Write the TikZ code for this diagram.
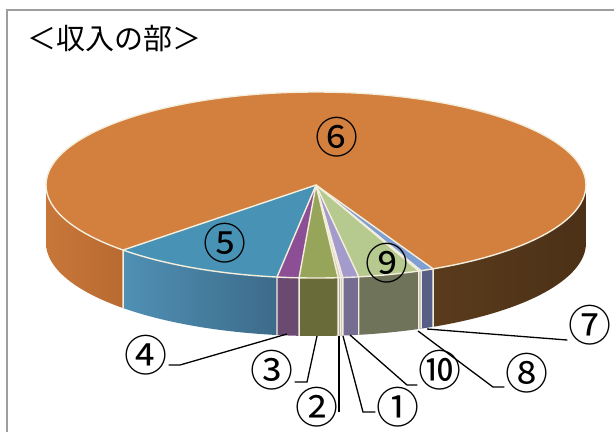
\documentclass[tikz,border=0pt]{standalone}
\usepackage{fontspec}
\newfontfamily\jp{Noto Sans CJK JP}
\definecolor{frm}{gray}{.62}
\definecolor{edg}{HTML}{F4EEDC}
\definecolor{t6}{HTML}{D3803F}
\definecolor{s6l}{HTML}{C8773A}
\definecolor{s6m}{HTML}{B86A30}
\definecolor{s6d}{HTML}{4C3117}
\definecolor{s6r}{HTML}{5A3B1C}
\definecolor{t5}{HTML}{4893B5}
\definecolor{s5l}{HTML}{4F90B4}
\definecolor{s5r}{HTML}{3D6B8A}
\definecolor{t4}{HTML}{8C4F96}
\definecolor{s4}{HTML}{6B4A72}
\definecolor{t3}{HTML}{97A55A}
\definecolor{s3}{HTML}{696B39}
\definecolor{t2}{HTML}{D6C6B6}
\definecolor{s2}{HTML}{B4ACA4}
\definecolor{t1}{HTML}{C2B4D6}
\definecolor{s1}{HTML}{8A82A2}
\definecolor{t10}{HTML}{A39BCB}
\definecolor{s10}{HTML}{766E92}
\definecolor{t9}{HTML}{B6CA90}
\definecolor{s9}{HTML}{6F735A}
\definecolor{t8}{HTML}{C6D6E6}
\definecolor{s8}{HTML}{8E8E98}
\definecolor{t7}{HTML}{7F9FD3}
\definecolor{s7}{HTML}{585F87}
\tikzset{
    edge/.style={draw=edg, line width=1.4pt},
    num/.style={font=\jp\fontsize{43}{43}\selectfont, inner sep=1pt},
    lead/.style={line width=1.3pt},
}

\begin{document}
\begin{tikzpicture}[x=1pt, y=-1pt]
    \useasboundingbox(0, 0) rectangle (614, 432);
    \draw[frm, line width=1.6pt](7, 432)--(7, 10)--(614, 10);
    \node[anchor=west, inner sep=0, font=\jp\fontsize{29}{29}\selectfont](ttl) at(27, 39){＜収入の部＞};
    \begin{scope}[shift={(316, 185)}]
        % side of the disc
        \shade[left color=s6l, right color=s6m](180:270 and 93) arc[start angle=180, end angle=135.6, x radius=270, y radius=93]--++(0, 58) arc[start angle=135.6, end angle=180, x radius=270, y radius=93]--cycle;
        \shade[left color=s6r, right color=s6d](64.3:270 and 93) arc[start angle=64.3, end angle=0, x radius=270, y radius=93]--++(0, 58) arc[start angle=0, end angle=64.3, x radius=270, y radius=93]--cycle;
        \shade[left color=s5l, right color=s5r](98.3:270 and 93) arc[start angle=98.3, end angle=135.6, x radius=270, y radius=93]--++(0, 58) arc[start angle=135.6, end angle=98.3, x radius=270, y radius=93]--cycle;
        \foreach \a/\b/\c in {64.3/67.1/s7, 67.1/67.6/s8, 67.6/80.9/s9, 80.9/84.3/s10, 84.3/84.7/s1, 84.7/85.3/s2, 85.3/93.6/s3, 93.6/98.3/s4}
            \fill[\c](\a:270 and 93) arc[start angle=\a, end angle=\b, x radius=270, y radius=93]--++(0, 58) arc[start angle=\b, end angle=\a, x radius=270, y radius=93]--cycle;
        % top
        \fill[t6](0, 0) ellipse[x radius=270, y radius=93];
        \foreach \a/\b/\c in {64.3/67.1/t7, 67.1/67.6/t8, 67.6/80.9/t9, 80.9/84.3/t10, 84.3/84.7/t1, 84.7/85.3/t2, 85.3/93.6/t3, 93.6/98.3/t4, 98.3/135.6/t5}
            \fill[\c](0, 0)--(\a:270 and 93) arc[start angle=\a, end angle=\b, x radius=270, y radius=93]--cycle;
        \foreach \a in {64.3, 67.1, 67.6, 80.9, 84.3, 84.7, 85.3, 93.6, 98.3, 135.6}
            \draw[edge](0, 0)--(\a:270 and 93)--++(0, 58);
        \draw[edge](0, 0) ellipse[x radius=270, y radius=93];
    \end{scope}
    \node[num](n6) at(337, 137){⑥};
    \node[num](n5) at(225, 243){⑤};
    \node[num](n9) at(387, 263){⑨};
    \node[num](n4) at(146, 355){④};
    \node[num](n3) at(272, 370){③};
    \node[num](n2) at(317, 407){②};
    \node[num](n1) at(398, 407){①};
    \node[num](n10) at(440, 370){⑩};
    \node[num](n8) at(527, 373){⑧};
    \node[num](n7) at(590, 325){⑦};
    \coordinate(p4) at(287, 334); \coordinate(k4) at(180, 365);
    \coordinate(p3) at(317, 336); \coordinate(k3) at(307, 382);
    \coordinate(p2) at(339, 336); \coordinate(k2) at(339, 412);
    \coordinate(p1) at(343, 336); \coordinate(k1) at(363, 412);
    \coordinate(p10) at(350, 335); \coordinate(k10) at(407, 385);
    \coordinate(p8) at(418, 331); \coordinate(k8) at(493, 387);
    \coordinate(p7) at(427, 329); \coordinate(k7) at(567, 340);
    \draw[lead](p4)--(k4)--(k4-|n4.east);
    \draw[lead](p3)--(k3)--(k3-|n3.east);
    \draw[lead](p2)--(k2);
    \draw[lead](p1)--(k1)--(k1-|n1.west);
    \draw[lead](p10)--(k10)--(k10-|n10.west);
    \draw[lead](p8)--(k8)--(k8-|n8.west);
    \draw[lead](p7)--(k7)--(k7-|n7.west);
\end{tikzpicture}
\end{document}
